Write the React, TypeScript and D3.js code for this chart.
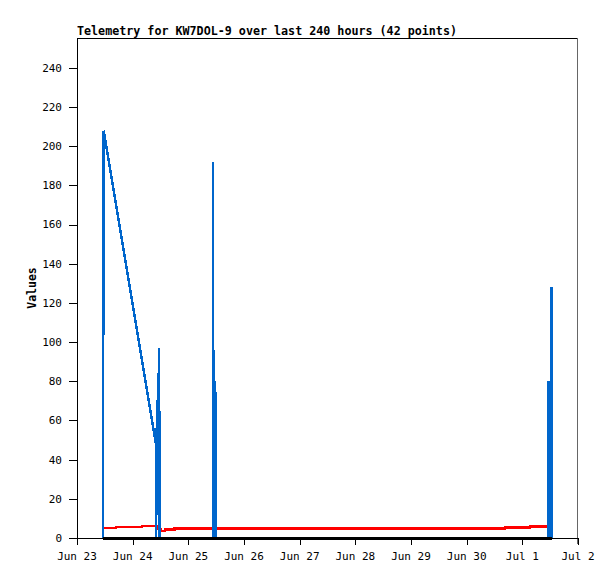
import React from 'react';
import * as d3 from 'd3';

// hours since Jun 23 00:00, value
const blueSeries: [number, number][] = [
  [11.15, 0], [11.2, 104], [11.45, 104], [11.5, 208],
  [34.0, 48], [34.1, 0], [34.3, 56], [34.5, 12], [34.9, 84], [35.1, 36], [35.4, 97], [35.6, 0],
  [58.6, 0], [58.65, 192], [58.8, 0], [59.1, 96], [59.2, 0], [59.6, 80], [59.7, 0],
  [203.0, 0], [203.1, 80], [203.4, 0], [203.5, 80], [203.8, 0], [203.9, 80], [204.2, 0], [204.3, 80],
  [204.6, 128], [204.7, 0],
];

const redSeries: [number, number][] = [
  [11.2, 5.0], [16.8, 5.5], [28.0, 6.0], [34.5, 4.6], [36.2, 3.7], [37.9, 4.4],
  [42.0, 4.9], [184.5, 5.4], [195.3, 5.9], [204.8, 5.9],
];

const blackSeries: [number, number][] = [
  [11.2, 0], [204.8, 0],
];

const yTicks = [0, 20, 40, 60, 80, 100, 120, 140, 160, 180, 200, 220, 240];
const start = new Date(2024, 5, 23, 0, 0);
const end = new Date(2024, 6, 2, 0, 0);
const title = 'Telemetry for KW7DOL-9 over last 240 hours (42 points)';

const W = 615;
const H = 579;
const left = 77, right = 578, top = 38, bottom = 538;
const mono = '"DejaVu Sans Mono", monospace';

export default function App() {
  const x = d3.scaleTime().domain([start, end]).range([left, right]);
  const y = d3.scaleLinear().domain([0, 255.3]).range([bottom, top]);
  const toDate = (h: number) => new Date(start.getTime() + h * 3600 * 1000);
  const xTicks = d3.timeDay.range(start, d3.timeDay.offset(end, 1));
  const fmt = d3.timeFormat('%b %-d');

  const line = d3.line<[number, number]>()
    .x(d => x(toDate(d[0])))
    .y(d => y(d[1]));
  const stepLine = d3.line<[number, number]>()
    .x(d => x(toDate(d[0])))
    .y(d => y(d[1]))
    .curve(d3.curveStepAfter);

  return (
    <svg width={W} height={H} style={{ position: 'absolute', left: 0, top: 0, background: '#fff' }}
      fontFamily={mono}>
      <rect x={0} y={0} width={W} height={H} fill="#fff" />
      <text x={left} y={35} fontSize={11.7} fontWeight="bold">{title}</text>

      {/* frame */}
      <line x1={left} x2={right} y1={top + 0.5} y2={top + 0.5} stroke="#000" shapeRendering="crispEdges" />
      <line x1={right - 0.5} x2={right - 0.5} y1={top} y2={bottom + 6} stroke="#666" shapeRendering="crispEdges" />
      <line x1={left + 0.5} x2={left + 0.5} y1={top} y2={bottom} stroke="#000" shapeRendering="crispEdges" />
      <line x1={left} x2={right} y1={bottom + 0.5} y2={bottom + 0.5} stroke="#000" shapeRendering="crispEdges" />

      {/* y axis */}
      {yTicks.map(t => (
        <g key={t}>
          <line x1={left - 8} x2={left} y1={Math.round(y(t)) + 0.5} y2={Math.round(y(t)) + 0.5}
            stroke="#000" shapeRendering="crispEdges" />
          <text x={62} y={y(t)} dy="0.35em" textAnchor="end" fontSize={11}>{t}</text>
        </g>
      ))}
      <text transform={`translate(36,288) rotate(-90)`} textAnchor="middle" fontSize={11.5}
        fontWeight="bold">Values</text>

      {/* x axis */}
      {xTicks.map(t => (
        <g key={t.getTime()}>
          <line x1={Math.round(x(t)) + 0.5} x2={Math.round(x(t)) + 0.5} y1={bottom} y2={bottom + 7}
            stroke="#000" shapeRendering="crispEdges" />
          <text x={x(t)} y={560} textAnchor="middle" fontSize={11}>{fmt(t)}</text>
        </g>
      ))}

      {/* series */}
      <path d={stepLine(redSeries) ?? ''} fill="none" stroke="#ff0000" strokeWidth={2.5}
        shapeRendering="crispEdges" />
      <path d={line(blueSeries) ?? ''} fill="none" stroke="#0066cc" strokeWidth={2.5}
        strokeLinejoin="bevel" shapeRendering="crispEdges" />
      <path d={line(blackSeries) ?? ''} fill="none" stroke="#000" strokeWidth={3}
        shapeRendering="crispEdges" />
    </svg>
  );
}
